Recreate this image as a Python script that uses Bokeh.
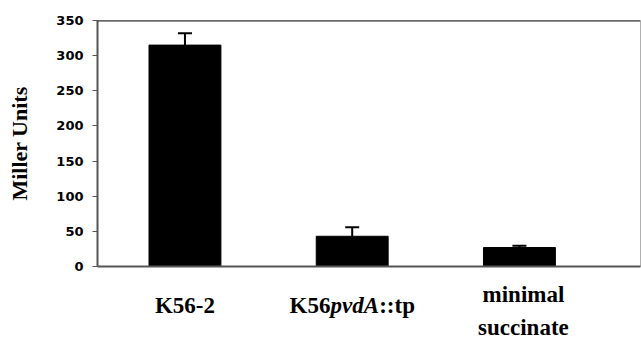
from bokeh.plotting import figure
from bokeh.layouts import column
from bokeh.models import Range1d, FixedTicker, Span, ColumnDataSource, Whisker, TeeHead
from bokeh.core.properties import value
from bokeh.embed import file_html
from bokeh.resources import INLINE

categories = ["K56-2", "K56pvdA::tp", "minimal succinate"]
positions = [1, 2, 3]
miller_units = [315, 43, 27]
errors = [17, 13, 2.5]
y_ticks = [0, 50, 100, 150, 200, 250, 300, 350]

upper = [m + e for m, e in zip(miller_units, errors)]
src = ColumnDataSource(dict(x=positions, top=miller_units, upper=upper))

XR = Range1d(0.477, 3.724)
p = figure(width=641, height=276, output_backend="svg", toolbar_location=None,
           x_range=XR, y_range=Range1d(0, 350),
           min_border_left=97, min_border_right=1, min_border_top=20, min_border_bottom=10)
p.grid.visible = False
p.outline_line_color = "#b0b0b0"
p.outline_line_width = 1

p.vbar(x="x", top="top", bottom=0, width=0.43, source=src, fill_color="black", line_color="black")
w = Whisker(source=src, base="x", upper="upper", lower="top", dimension="height",
            line_color="black", line_width=2, lower_head=None,
            upper_head=TeeHead(size=14, line_color="black", line_width=2))
p.add_layout(w)

ya = p.yaxis[0]
ya.ticker = FixedTicker(ticks=y_ticks)
ya.major_label_text_font = "DejaVu Sans"
ya.major_label_text_font_style = "bold"
ya.major_label_text_font_size = "13px"
ya.major_label_text_color = "black"
ya.major_tick_out = 5
ya.major_tick_in = 0
ya.minor_tick_line_color = None
ya.major_label_standoff = 9
ya.axis_line_color = "#555555"
ya.axis_line_width = 2
ya.major_tick_line_color = "#555555"
ya.axis_label = "Miller Units"
ya.axis_label_text_font = "Liberation Serif"
ya.axis_label_text_font_style = "bold"
ya.axis_label_text_font_size = "22px"
ya.axis_label_text_color = "black"
ya.axis_label_standoff = 21

xa = p.xaxis[0]
xa.ticker = FixedTicker(ticks=[])
xa.minor_tick_line_color = None
xa.major_tick_line_color = None
xa.major_tick_out = 0
xa.major_label_text_font_size = "0px"
xa.axis_line_color = "#555555"
xa.axis_line_width = 2

p.add_layout(Span(location=350, dimension="width", line_color="#222222", line_width=2))

# category labels in a strip below, sharing the x range
p2 = figure(width=641, height=64, output_backend="svg", toolbar_location=None,
            x_range=XR, y_range=Range1d(0, 64),
            min_border_left=97, min_border_right=1, min_border_top=0, min_border_bottom=0)
p2.axis.visible = False
p2.grid.visible = False
p2.outline_line_color = None

font = value("Liberation Serif")
fs = value("23px")
def lab(x, y, text, style="bold", xoff=0, align="center"):
    p2.text(x=[x], y=[y], text=[text], x_offset=xoff, text_align=align,
            text_baseline="alphabetic", text_font=font, text_font_style=style,
            text_font_size=fs, text_color="black")

row_y = 34.7
lab(positions[0], row_y, categories[0])
lab(positions[1], row_y, "K56", xoff=-62.6, align="left")
lab(positions[1], row_y, "pvdA", style="bold italic", xoff=-21.7, align="left")
lab(positions[1], row_y, "::tp", xoff=27.0, align="left")
lab(positions[2], 46, categories[2].split(" ")[0], xoff=4)
lab(positions[2], 13.5, categories[2].split(" ")[1], xoff=4)

layout = column(p, p2, spacing=0)
open("out.html", "w").write(file_html(layout, INLINE))
